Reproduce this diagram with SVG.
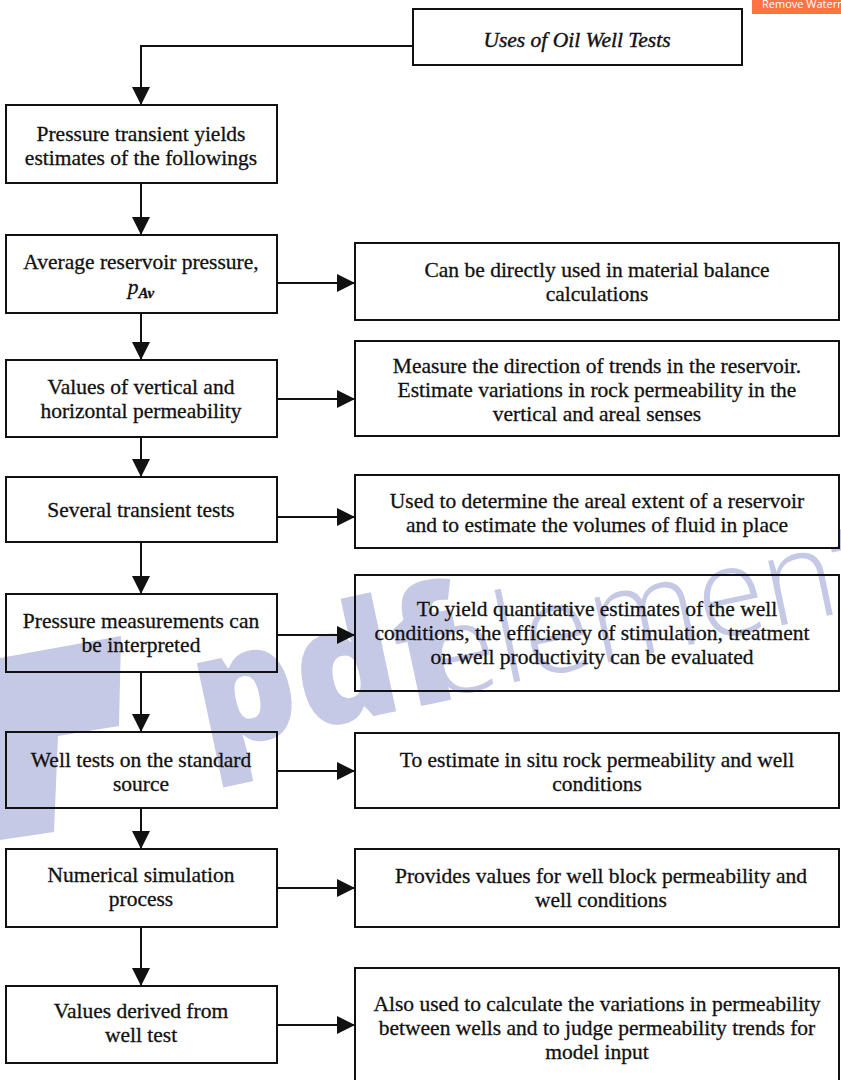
<svg xmlns="http://www.w3.org/2000/svg" width="841" height="1080" viewBox="0 0 841 1080">
  <style>
    .box { fill: none; stroke: #111; stroke-width: 2; }
    .lbl { font-family: "Liberation Serif", "Times New Roman", serif; font-size: 21.5px; fill: #111; stroke: #111; stroke-width: 0.3; text-anchor: middle; }
    .title { font-family: "Liberation Serif", "Times New Roman", serif; font-size: 21.5px; font-style: italic; fill: #111; stroke: #111; stroke-width: 0.4; text-anchor: middle; }
    .conn { fill: none; stroke: #111; stroke-width: 2; }
    .wm { fill: #c6c9e6; }
  </style>
  <defs>
    <marker id="arrow" markerUnits="userSpaceOnUse" markerWidth="18" markerHeight="18" viewBox="0 0 16 16" refX="16" refY="8" orient="auto">
      <path d="M0,0 L16,8 L0,16 Z" fill="#111"/>
    </marker>
  </defs>
  <rect width="841" height="1080" fill="#fff"/>

  <!-- background watermark -->
  <g id="watermark">
    <polygon class="wm" points="0,658 121,636 119,726 58,736 54,832 0,840"/>
    <text transform="rotate(-12 205 752)" x="205" y="752" class="wm" font-family="'Open Sans', 'Liberation Sans', sans-serif"><tspan font-weight="800" font-size="160">pdf</tspan><tspan font-weight="300" font-size="124" dx="-34" dy="-4">element</tspan></text>
  </g>
  <g id="remove-tab">
    <rect x="752" y="0" width="89" height="14" fill="#ff7246"/>
    <text x="762" y="8" font-family="'Open Sans', 'Liberation Sans', sans-serif" font-size="11" fill="#fff">Remove Watermark</text>
  </g>

  <!-- connectors -->
  <g id="connectors">
    <path class="conn" d="M413,46 H141 V105" marker-end="url(#arrow)"/>
    <path class="conn" d="M141,183 V235" marker-end="url(#arrow)"/>
    <path class="conn" d="M141,313 V360" marker-end="url(#arrow)"/>
    <path class="conn" d="M141,437 V477" marker-end="url(#arrow)"/>
    <path class="conn" d="M141,542 V594" marker-end="url(#arrow)"/>
    <path class="conn" d="M141,672 V732" marker-end="url(#arrow)"/>
    <path class="conn" d="M141,808 V849" marker-end="url(#arrow)"/>
    <path class="conn" d="M141,927 V986" marker-end="url(#arrow)"/>
    <path class="conn" d="M277,283 H355" marker-end="url(#arrow)"/>
    <path class="conn" d="M277,399 H355" marker-end="url(#arrow)"/>
    <path class="conn" d="M277,517 H355" marker-end="url(#arrow)"/>
    <path class="conn" d="M277,635 H355" marker-end="url(#arrow)"/>
    <path class="conn" d="M277,771 H355" marker-end="url(#arrow)"/>
    <path class="conn" d="M277,888 H355" marker-end="url(#arrow)"/>
    <path class="conn" d="M277,1025 H355" marker-end="url(#arrow)"/>
  </g>

  <!-- title -->
  <g id="title">
    <rect class="box" x="413" y="9" width="329" height="56"/>
    <text class="title" x="577" y="47">Uses of Oil Well Tests</text>
  </g>

  <!-- left column -->
  <g id="n-pressure-transient">
    <rect class="box" x="6" y="105" width="271" height="78"/>
    <text class="lbl" x="141" y="141">Pressure transient yields</text>
    <text class="lbl" x="141" y="165">estimates of the followings</text>
  </g>
  <g id="n-average-pressure">
    <rect class="box" x="6" y="235" width="271" height="78"/>
    <text class="lbl" x="141" y="269">Average reservoir pressure,</text>
    <text class="lbl" x="141" y="294" font-style="italic">p<tspan font-size="15" dy="4" font-weight="bold">Av</tspan></text>
  </g>
  <g id="n-permeability">
    <rect class="box" x="6" y="360" width="271" height="77"/>
    <text class="lbl" x="141" y="394">Values of vertical and</text>
    <text class="lbl" x="141" y="418">horizontal permeability</text>
  </g>
  <g id="n-transient-tests">
    <rect class="box" x="6" y="477" width="271" height="65"/>
    <text class="lbl" x="141" y="517">Several transient tests</text>
  </g>
  <g id="n-pressure-measurements">
    <rect class="box" x="6" y="594" width="271" height="78"/>
    <text class="lbl" x="141" y="628">Pressure measurements can</text>
    <text class="lbl" x="141" y="652">be interpreted</text>
  </g>
  <g id="n-standard-source">
    <rect class="box" x="6" y="732" width="271" height="76"/>
    <text class="lbl" x="141" y="767">Well tests on the standard</text>
    <text class="lbl" x="141" y="791">source</text>
  </g>
  <g id="n-numerical-simulation">
    <rect class="box" x="6" y="849" width="271" height="78"/>
    <text class="lbl" x="141" y="882">Numerical simulation</text>
    <text class="lbl" x="141" y="906">process</text>
  </g>
  <g id="n-derived-values">
    <rect class="box" x="6" y="986" width="271" height="77"/>
    <text class="lbl" x="141" y="1018">Values derived from</text>
    <text class="lbl" x="141" y="1042">well test</text>
  </g>

  <!-- right column -->
  <g id="r-material-balance">
    <rect class="box" x="355" y="243" width="484" height="77"/>
    <text class="lbl" x="597" y="277">Can be directly used in material balance</text>
    <text class="lbl" x="597" y="301">calculations</text>
  </g>
  <g id="r-trends">
    <rect class="box" x="355" y="341" width="484" height="95"/>
    <text class="lbl" x="597" y="373">Measure the direction of trends in the reservoir.</text>
    <text class="lbl" x="597" y="397">Estimate variations in rock permeability in the</text>
    <text class="lbl" x="597" y="421">vertical and areal senses</text>
  </g>
  <g id="r-areal-extent">
    <rect class="box" x="355" y="475" width="484" height="73"/>
    <text class="lbl" x="597" y="508">Used to determine the areal extent of a reservoir</text>
    <text class="lbl" x="597" y="532">and to estimate the volumes of fluid in place</text>
  </g>
  <g id="r-well-conditions">
    <rect class="box" x="355" y="575" width="484" height="116"/>
    <text class="lbl" x="597" y="616">To yield quantitative estimates of the well</text>
    <text class="lbl" x="592" y="640">conditions, the efficiency of stimulation, treatment</text>
    <text class="lbl" x="592" y="664">on well productivity can be evaluated</text>
  </g>
  <g id="r-in-situ">
    <rect class="box" x="355" y="733" width="484" height="75"/>
    <text class="lbl" x="597" y="767">To estimate in situ rock permeability and well</text>
    <text class="lbl" x="597" y="791">conditions</text>
  </g>
  <g id="r-block-permeability">
    <rect class="box" x="355" y="849" width="484" height="78"/>
    <text class="lbl" x="601" y="883">Provides values for well block permeability and</text>
    <text class="lbl" x="601" y="907">well conditions</text>
  </g>
  <g id="r-model-input">
    <rect class="box" x="355" y="968" width="484" height="120"/>
    <text class="lbl" x="597" y="1011">Also used to calculate the variations in permeability</text>
    <text class="lbl" x="597" y="1035">between wells and to judge permeability trends for</text>
    <text class="lbl" x="597" y="1059">model input</text>
  </g>
</svg>
